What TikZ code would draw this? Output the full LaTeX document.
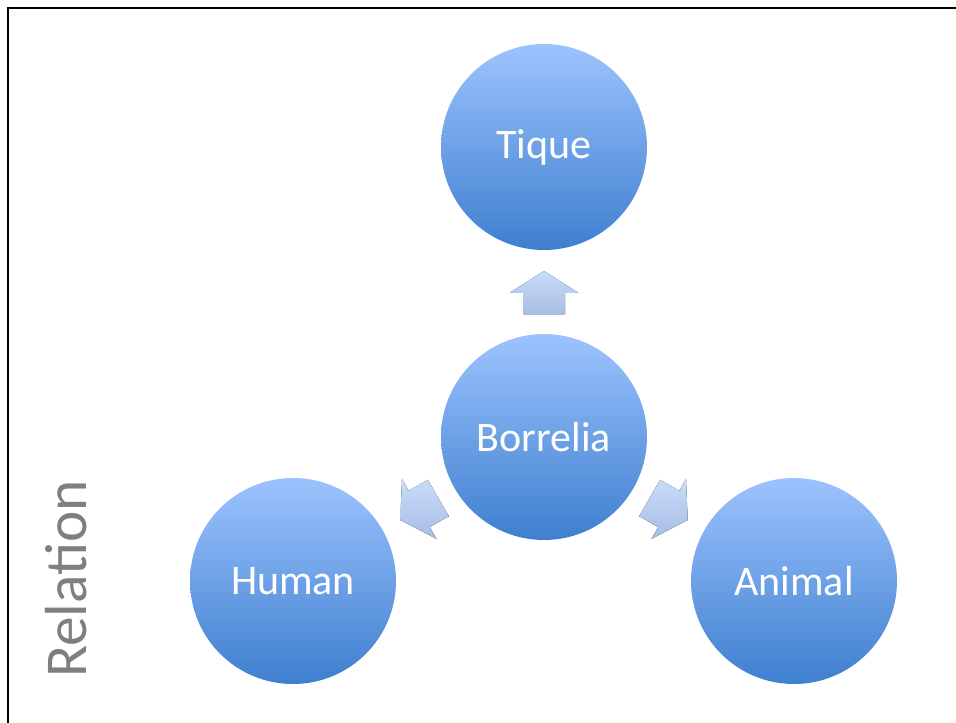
\documentclass[tikz,border=0pt]{standalone}
\usepackage{fontspec}
\setmainfont{Carlito}
\usepackage{xcolor}
\definecolor{bubbletop}{HTML}{9DC3FE}
\definecolor{bubblebot}{HTML}{3E7FCF}
\definecolor{arrowtop}{HTML}{CADCFA}
\definecolor{arrowbot}{HTML}{A6BCE3}
\definecolor{relgray}{HTML}{7F7F7F}

\begin{document}
\begin{tikzpicture}[x=0.75pt, y=-0.75pt,
    bubble/.style={circle, minimum size=154.5pt, inner sep=0pt, top color=bubbletop, bottom color=bubblebot, text=white, font=\fontsize{31.5}{36}\selectfont},
    flow/.style={top color=arrowtop, bottom color=arrowbot}]
        \useasboundingbox (0,0) rectangle (956,723);

        % Frame
        \draw[line width=2.2pt] (8,723) -- (8,8) -- (956,8);

        % Circles
        \node[bubble] (tique) at (544,147) {Tique};
        \node[bubble] (borrelia) at (544,437) {Borrelia};
        \node[bubble] (human) at (293,581) {Human};
        \node[bubble] (animal) at (794,581) {Animal};

        % Block arrows from Borrelia
        \foreach \ang in {90, 210, 330}
            \fill[flow, shift={(borrelia.center)}, rotate=\ang]
                (122,-21) -- (144,-21) -- (144,-34.5) -- (166,0) -- (144,34.5) -- (144,21) -- (122,21) -- cycle;

        % Side title
        \node[rotate=90, text=relgray, font=\fontsize{44.5}{50}\selectfont] (relation) at (66,579) {Relation};
    \end{tikzpicture}
\end{document}
